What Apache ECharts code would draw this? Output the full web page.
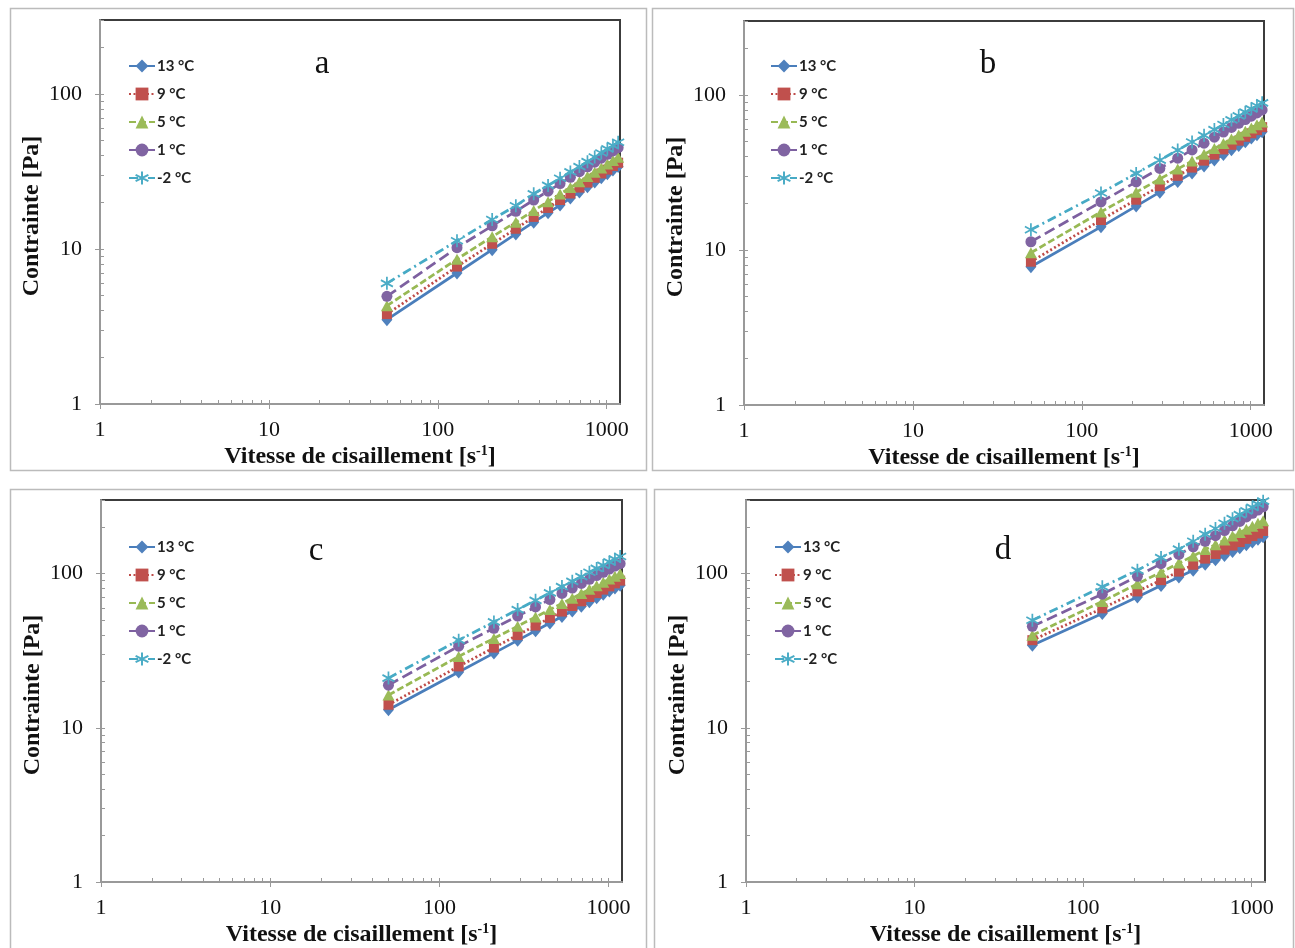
<!DOCTYPE html>
<html><head><meta charset="utf-8">
<script src="https://cdn.jsdelivr.net/npm/echarts@6/dist/echarts.min.js"></script>
<style>html,body{margin:0;padding:0;background:#fff}#c{width:1295px;height:948px}</style>
</head><body><div id="c"></div>
<script>
// ---- data ----
const shearRate = [50,130,210,290,370,450,530,610,690,770,850,930,1010,1090,1170];
const seriesNames = ['13 °C','9 °C','5 °C','1 °C','-2 °C'];
const panelLabels = ['a','b','c','d'];
const xMajorTicks = [1,10,100,1000];
const xMinorTicks = [2,3,4,5,6,7,8,9,20,30,40,50,60,70,80,90,200,300,400,500,600,700,800,900];
const yMajorTicks = [1,10,100];
const yMinorTicks = [2,3,4,5,6,7,8,9,20,30,40,50,60,70,80,90,200,300];
const xAxisTitle = 'Vitesse de cisaillement [s';
const xAxisTitleSup = '-1';
const yAxisTitle = 'Contrainte [Pa]';

const a13 = [3.5,7.0,9.9,12.5,14.9,17.1,19.2,21.3,23.3,25.2,27.0,28.8,30.6,32.3,34.0];
const a9  = [3.8,7.7,10.8,13.5,16.1,18.4,20.7,22.8,24.9,26.8,28.8,30.7,32.5,34.3,36.0];
const a5  = [4.3,8.6,12.0,14.9,17.7,20.2,22.6,24.9,27.1,29.3,31.3,33.3,35.3,37.2,39.0];
const a1  = [4.95,10.2,14.1,17.5,20.7,23.6,26.4,29.0,31.5,33.9,36.3,38.5,40.8,42.9,45.0];
const am2 = [6.0,11.3,15.5,19.0,22.7,25.7,28.6,31.4,34.0,36.6,39.2,41.6,44.2,46.4,48.8];

const b13 = [7.8,14.1,19.2,23.6,27.7,31.4,34.8,38.1,41.3,44.3,47.2,50.0,52.8,55.4,58.0];
const b9  = [8.4,15.6,21.1,25.8,30.1,34.0,37.7,41.2,44.5,47.7,50.7,53.7,56.6,59.3,62.0];
const b5  = [9.6,17.6,23.6,28.7,33.3,37.5,41.4,45.1,48.6,52.0,55.2,58.3,61.3,64.2,67.0];
const b1  = [11.3,20.4,27.5,33.6,39.1,44.2,48.9,53.4,57.6,61.7,65.6,69.4,73.0,76.6,80.0];
const bm2 = [13.5,23.3,31.2,38.0,44.1,49.7,54.9,59.8,64.5,69.0,73.3,77.4,81.4,85.2,89.0];

const c13 = [13.1,23.0,30.5,36.9,42.6,47.8,52.7,57.2,61.5,65.6,69.6,73.4,77.0,80.6,84.0];
const c9  = [14.1,25.0,33.1,39.9,46.0,51.6,56.7,61.6,66.1,70.5,74.7,78.7,82.6,86.4,90.0];
const c5  = [16.3,29.0,38.0,45.6,52.3,58.4,64.0,69.3,74.3,79.0,83.5,87.9,92.1,96.1,100];
const c1  = [18.9,33.8,44.2,53.0,60.8,67.9,74.4,80.5,86.3,91.8,97.0,102,107,112,116];
const cm2 = [21.0,37.0,48.6,58.4,67.1,75.0,82.3,89.1,95.6,102,108,113,119,124,129];

const d13 = [34.3,55.0,70.6,83.6,94.9,105,115,123,131,139,147,154,160,167,173];
const d9  = [37.0,59.5,76.6,90.7,103,114,125,134,143,152,160,168,175,182,189];
const d5  = [39.8,66.0,85.8,102,117,130,143,154,165,175,185,194,203,212,220];
const d1  = [45.5,73.5,96,116,133,149,162,176,190,204,218,233,246,258,271];
const dm2 = [49.8,82,105,127,144,162,180,196,212,227,241,255,269,282,295];

const panelData = [[a13,a9,a5,a1,am2],[b13,b9,b5,b1,bm2],[c13,c9,c5,c1,cm2],[d13,d9,d5,d1,dm2]];

// ---- styles ----
const lineColors = ['#4A7EBB','#BE4B48','#98B954','#7D60A0','#46AAC5'];
const markColors = ['#4F81BD','#C0504D','#9BBB59','#8064A2','#4BACC6'];
const lineTypes = ['solid',[2,2.5],[7,3],[11,5],[9,4,2,4]];
const symbols = ['diamond','rect','triangle','circle','path://M5,0L5,10M0.67,2.5L9.33,7.5M0.67,7.5L9.33,2.5'];
const symbolSizes = [[11,13],10,[12,11],11,[12,13]];

const grids = [
  {left:100, top:20, width:520, height:384},
  {left:744, top:21, width:520, height:384},
  {left:101, top:500, width:521, height:385},
  {left:746, top:500, width:519, height:385}
];
const legendPos = [{left:128,top:58},{left:770,top:58},{left:128,top:539},{left:774,top:539}];
const letterPos = [[322,64],[988,64],[316,551],[1003,550]];

const axisGray = '#999999';
const serif = 'Liberation Serif';

const xAxes = [], yAxes = [], series = [], legends = [], graphics = [];
grids.forEach((g, i) => {
  xAxes.push({
    type:'log', gridIndex:i, min:1, max:1200, logBase:10,
    name: '{n|' + xAxisTitle + '}{s|' + xAxisTitleSup + '}{n|]}',
    nameLocation:'middle', nameGap:40,
    nameTextStyle:{rich:{
      n:{fontFamily:serif, fontWeight:'bold', fontSize:24, color:'#111', lineHeight:26},
      s:{fontFamily:serif, fontWeight:'bold', fontSize:14, color:'#111', lineHeight:15, verticalAlign:'top'}
    }},
    axisLine:{show:true, lineStyle:{color:axisGray, width:2}},
    axisTick:{show:true, inside:false, length:5, lineStyle:{color:axisGray, width:1}, customValues:xMajorTicks},
    axisLabel:{customValues:xMajorTicks, margin:15, fontFamily:serif, fontSize:22, color:'#111',
               formatter: v => String(Math.round(v))},
    splitLine:{show:false}, minorTick:{show:false}
  });
  xAxes.push({
    type:'log', gridIndex:i, min:1, max:1200, logBase:10, position:'bottom',
    axisLine:{show:false},
    axisTick:{show:true, inside:true, length:4, lineStyle:{color:axisGray, width:1}, customValues:xMajorTicks.concat(xMinorTicks)},
    axisLabel:{show:false}, splitLine:{show:false}
  });
  yAxes.push({
    type:'log', gridIndex:i, min:1, max:300, logBase:10,
    name: yAxisTitle, nameLocation:'middle', nameGap:56,
    nameTextStyle:{fontFamily:serif, fontWeight:'bold', fontSize:24, color:'#111', padding:[0,8,0,0]},
    axisLine:{show:true, lineStyle:{color:axisGray, width:2}},
    axisTick:{show:true, inside:false, length:5, lineStyle:{color:axisGray, width:1}, customValues:yMajorTicks},
    axisLabel:{customValues:yMajorTicks, margin:18, fontFamily:serif, fontSize:22, color:'#111',
               formatter: v => String(Math.round(v))},
    splitLine:{show:false}
  });
  yAxes.push({
    type:'log', gridIndex:i, min:1, max:300, logBase:10, position:'left',
    axisLine:{show:false},
    axisTick:{show:true, inside:true, length:4, lineStyle:{color:axisGray, width:1}, customValues:yMajorTicks.concat(yMinorTicks)},
    axisLabel:{show:false}, splitLine:{show:false}
  });
  panelData[i].forEach((vals, k) => {
    series.push({
      type:'line', name:seriesNames[k], xAxisIndex:i*2, yAxisIndex:i*2,
      data: shearRate.map((x, j) => [x, vals[j]]),
      symbol:symbols[k], symbolSize:symbolSizes[k], showAllSymbol:true,
      lineStyle:{color:lineColors[k], width:2.75, type:lineTypes[k]},
      itemStyle: k === 4 ? {color:markColors[k], borderColor:markColors[k], borderWidth:1.8}
                         : {color:markColors[k]},
      z: 2 + k, animation:false
    });
  });
  legends.push({
    orient:'vertical', left:legendPos[i].left, top:legendPos[i].top, padding:0,
    itemWidth:26, itemHeight:16, itemGap:12, selectedMode:false,
    data: seriesNames,
    textStyle:{fontFamily:'Lato', fontWeight:'bold', fontSize:15, color:'#222', lineHeight:16, padding:[0,0,0,-3]}
  });
  graphics.push({
    type:'text', x:letterPos[i][0], y:letterPos[i][1], z:10,
    style:{text:panelLabels[i], font:'33px "Liberation Serif"', fill:'#111', textAlign:'center', textVerticalAlign:'middle'}
  });
});
[[10,8,636,462],[652,8,641,462],[10,489,636,470],[654,489,639,470]].forEach(r => {
  graphics.push({type:'rect', shape:{x:r[0]+0.5, y:r[1]+0.5, width:r[2], height:r[3]}, z:-1,
    style:{fill:'none', stroke:'#BBBBBB', lineWidth:1.5}});
});

const chart = echarts.init(document.getElementById('c'), null, {renderer:'canvas'});
chart.setOption({
  backgroundColor:'#ffffff',
  animation:false,
  grid: grids.map(g => Object.assign({show:true, borderColor:'#3c3c3c', borderWidth:2, backgroundColor:'transparent', containLabel:false}, g)),
  xAxis: xAxes, yAxis: yAxes, series: series, legend: legends, graphic: graphics
});
</script></body></html>
